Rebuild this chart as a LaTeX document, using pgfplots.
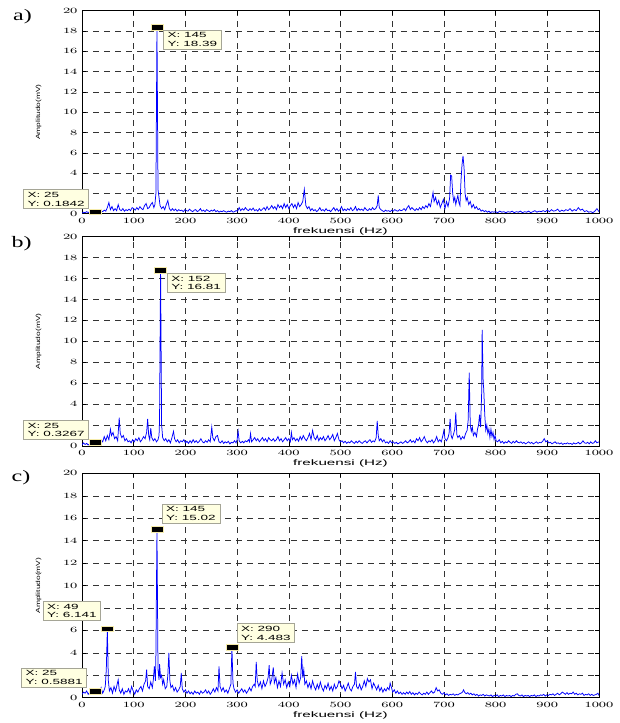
\documentclass[border=0pt]{standalone}
\usepackage{fontspec}
\setmainfont{Liberation Sans}
\newfontfamily\serifont{Liberation Serif}
\usepackage{graphicx}
\usepackage{pgfplots}
\pgfplotsset{compat=1.18}

\definecolor{tipfill}{RGB}{255,255,225}
\definecolor{tipedge}{RGB}{165,165,150}
\definecolor{tipmark}{RGB}{245,235,170}

\newcommand\wide[1]{\scalebox{1.7}[1]{#1}}
\newcommand\tw[1]{\scalebox{1.8}[1]{#1}}
\newcommand\tip[2]{\tw{X: #1}\\\tw{Y: #2}}

\pgfdeclareplotmark{dtip}{%
  \pgfpathrectangle{\pgfpoint{-6pt}{-2.8pt}}{\pgfpoint{12pt}{5.6pt}}%
  \pgfusepathqfillstroke}

\pgfplotsset{
  spec/.style={
    scale only axis, width=517pt,
    xmin=0, xmax=1000, ymin=0, ymax=20,
    xtick={0,100,...,1000}, ytick={0,2,...,20},
    /pgf/number format/1000 sep={},
    grid=major,
    major grid style={black!80, line width=0.45pt, dash pattern=on 6pt off 5pt},
    tick align=inside, tick pos=both, major tick length=4pt,
    tick style={black, line width=0.45pt},
    axis line style={black, line width=0.6pt},
    xticklabel={\wide{\pgfmathprintnumber{\tick}}},
    yticklabel={\wide{\pgfmathprintnumber{\tick}}},
    ticklabel style={font=\fontsize{8}{8}\selectfont},
    xticklabel style={yshift=-1.2pt},
    yticklabel style={xshift=-1pt},
    xlabel={\scalebox{1.9}[1]{frekuensi (Hz)}},
    xlabel style={font=\fontsize{8}{8}\selectfont, at={(axis description cs:0.5,0)}, anchor=center, yshift=-17.5pt},
    ylabel={\scalebox{1.4}[1]{Amplitudo(mV)}},
    ylabel style={font=\fontsize{6}{6}\selectfont, at={(axis description cs:-0.084,0.5)}, anchor=center},
    clip mode=individual,
  },
  sig/.style={color=blue, line width=0.75pt, mark=none},
  tipm/.style={only marks, mark=dtip, mark options={fill=black, draw=tipmark, line width=0.6pt}},
}
\tikzset{
  tipbox/.style={draw=tipedge, fill=tipfill, line width=0.5pt, font=\fontsize{7.5}{8.6}\selectfont,
    align=left, inner xsep=4pt, inner ysep=2.5pt},
  panel/.style={font=\serifont\fontsize{16}{16}\selectfont},
}

\begin{document}
\begin{tikzpicture}
\useasboundingbox (0,0) rectangle (620pt,723pt);

% ---------- a) ----------
\begin{axis}[spec, height=203pt, at={(82pt,509.3pt)}, anchor=south west]
\addplot[sig] coordinates {
(0,0.05)(3,0.15)(6,0.1)(9,0.2)(12,0.12)(15,0.18)(18,0.1)(21,0.15)(25,0.18)(28,0.1)
(31,0.2)(34,0.15)(37,0.3)(40,0.2)(43,0.35)(46,0.25)(49,0.6)(52,1.1)(55,0.4)(58,0.7)
(61,0.3)(64,0.5)(67,0.3)(70,0.9)(73,0.4)(76,0.3)(79,0.5)(82,0.25)(85,0.4)(88,0.3)
(91,0.45)(94,0.3)(97,0.6)(100,0.5)(103,0.35)(106,0.6)(109,0.4)(112,0.7)(115,0.5)(118,0.4)
(121,0.8)(124,1.0)(127,0.5)(130,0.6)(133,0.9)(136,1.1)(139,0.6)(141,0.9)(143,2.0)(145,18.39)
(147,2.4)(149,1.6)(151,0.8)(154,0.5)(157,0.7)(160,0.4)(163,0.9)(166,1.3)(169,0.5)(172,0.3)
(175,0.5)(178,0.3)(181,0.45)(184,0.25)(187,0.4)(190,0.3)(193,0.35)(196,0.2)(199,0.4)(202,0.3)
(205,0.25)(208,0.45)(211,0.3)(214,0.2)(217,0.35)(220,0.4)(223,0.2)(226,0.3)(229,0.5)(232,0.25)
(235,0.35)(238,0.2)(241,0.4)(244,0.3)(247,0.2)(250,0.35)(253,0.25)(256,0.4)(259,0.2)(262,0.3)
(265,0.15)(268,0.25)(271,0.2)(274,0.3)(277,0.2)(280,0.15)(283,0.25)(286,0.2)(289,0.3)(292,0.15)
(295,0.2)(298,0.3)(301,0.25)(304,0.6)(307,0.3)(310,0.5)(313,0.35)(316,0.6)(319,0.4)(322,0.3)
(325,0.5)(328,0.35)(331,0.55)(334,0.3)(337,0.4)(340,0.25)(343,0.5)(346,0.3)(349,0.45)(352,0.6)
(355,0.35)(358,0.7)(361,0.4)(364,0.55)(367,0.8)(370,0.5)(373,0.7)(376,0.4)(379,0.9)(382,0.6)
(385,0.8)(388,0.5)(391,1.0)(394,0.6)(397,0.9)(400,0.5)(403,0.8)(406,1.0)(409,0.6)(412,0.9)
(415,0.5)(418,1.1)(421,0.7)(424,0.9)(427,1.2)(430,2.4)(433,0.8)(436,0.5)(439,0.7)(442,0.3)
(445,0.5)(448,0.3)(451,0.4)(454,0.2)(457,0.35)(460,0.6)(463,0.3)(466,0.4)(469,0.25)(472,0.5)
(475,0.3)(478,0.35)(481,0.2)(484,0.4)(487,0.6)(490,0.3)(493,0.5)(496,0.25)(499,0.4)(502,0.7)
(505,0.3)(508,0.45)(511,0.3)(514,0.5)(517,0.35)(520,0.6)(523,0.3)(526,0.4)(529,0.7)(532,0.3)
(535,0.5)(538,0.35)(541,0.45)(544,0.3)(547,0.6)(550,0.4)(553,0.3)(556,0.5)(559,0.35)(562,0.6)
(565,0.4)(568,0.5)(571,0.8)(573,1.8)(575,0.6)(578,0.4)(581,0.3)(584,0.2)(587,0.35)(590,0.25)
(593,0.3)(596,0.2)(599,0.35)(602,0.25)(605,0.4)(608,0.3)(611,0.25)(614,0.4)(617,0.3)(620,0.35)
(623,0.5)(626,0.3)(629,0.6)(632,0.8)(635,0.4)(638,0.6)(641,0.45)(644,0.3)(647,0.5)(650,0.35)
(653,0.6)(656,0.4)(659,0.7)(662,0.5)(665,0.8)(668,0.6)(671,1.0)(674,0.7)(677,1.5)(679,2.1)
(681,1.2)(684,1.6)(687,0.9)(690,1.3)(693,0.6)(696,1.0)(699,1.4)(702,0.5)(705,1.2)(708,0.7)
(711,1.5)(713,3.8)(715,3.7)(717,2.0)(719,1.2)(721,1.6)(723,0.9)(725,1.4)(727,1.8)(729,1.1)
(731,0.8)(733,3.2)(735,4.8)(737,5.7)(739,4.5)(741,2.0)(743,1.3)(745,1.6)(748,0.9)(751,1.2)
(754,0.6)(757,0.9)(760,0.5)(763,0.7)(766,0.4)(769,0.5)(772,0.25)(775,0.35)(778,0.2)(781,0.3)
(784,0.15)(787,0.25)(790,0.1)(793,0.2)(796,0.15)(800,0.2)(804,0.1)(808,0.25)(812,0.15)(816,0.2)
(820,0.1)(824,0.2)(828,0.15)(832,0.25)(836,0.1)(840,0.2)(844,0.15)(848,0.25)(852,0.1)(856,0.2)
(860,0.15)(864,0.25)(868,0.1)(872,0.2)(876,0.3)(880,0.15)(884,0.25)(888,0.2)(892,0.3)(896,0.2)
(900,0.35)(904,0.2)(908,0.4)(912,0.25)(916,0.3)(920,0.45)(924,0.2)(928,0.35)(932,0.25)(936,0.4)
(940,0.3)(944,0.5)(948,0.25)(952,0.4)(956,0.3)(960,0.6)(964,0.35)(968,0.45)(972,0.2)(976,0.3)
(980,0.15)(984,0.2)(988,0.1)(992,0.25)(996,0.5)(1000,0.2)
};
\addplot[tipm] coordinates {(145,18.39)(25,0.1842)};
\node[tipbox, anchor=north west, xshift=6.5pt, yshift=-3pt] at (axis cs:145,18.39) {\tip{145}{18.39}};
\node[tipbox, anchor=south east, xshift=-6pt, yshift=3pt] at (axis cs:25,0.1842) {\tip{25}{0.1842}};
\node[panel] at (rel axis cs:-0.115,0.971) {\scalebox{1.5}[1]{a)}};
\end{axis}

% ---------- b) ----------
\begin{axis}[spec, height=209.3pt, at={(82pt,277pt)}, anchor=south west]
\addplot[sig] coordinates {
(0,0.1)(3,0.3)(6,0.15)(9,0.25)(12,0.1)(15,0.2)(18,0.35)(21,0.15)(25,0.33)(28,0.2)
(31,0.4)(34,0.3)(37,0.6)(40,0.4)(43,0.9)(46,0.5)(49,1.0)(52,0.6)(55,1.6)(57,1.0)
(60,1.3)(63,0.7)(66,0.9)(69,0.5)(72,2.7)(74,1.2)(77,0.8)(80,1.0)(83,0.5)(86,0.7)
(89,0.4)(92,0.5)(95,0.3)(98,0.6)(101,0.4)(104,0.7)(107,0.5)(110,0.8)(113,0.4)(116,0.6)
(119,0.9)(122,0.7)(125,1.3)(127,2.6)(129,1.0)(131,0.6)(133,1.7)(135,0.8)(138,0.5)(141,0.7)
(144,0.4)(147,0.6)(149,1.0)(150,2.5)(152,16.81)(154,2.0)(156,0.8)(159,0.5)(162,0.7)(165,0.4)
(168,0.6)(171,0.3)(174,0.8)(177,1.4)(179,0.7)(182,0.4)(185,0.6)(188,0.3)(191,0.5)(194,0.4)
(197,0.6)(200,0.3)(203,0.45)(206,0.25)(209,0.5)(212,0.3)(215,0.6)(218,0.35)(221,0.5)(224,0.3)
(227,0.45)(230,0.7)(233,0.4)(236,0.3)(239,0.5)(242,0.35)(245,0.6)(248,0.4)(251,1.8)(253,0.8)
(256,0.5)(259,0.9)(262,1.0)(265,0.4)(268,0.3)(271,0.5)(274,0.25)(277,0.4)(280,0.3)(283,0.45)
(286,0.2)(289,0.35)(292,0.3)(295,0.5)(298,0.3)(300,0.6)(302,1.4)(304,0.5)(307,0.3)(310,0.45)
(313,0.3)(316,0.5)(319,0.4)(322,0.6)(324,0.4)(326,1.2)(328,0.4)(331,0.6)(334,0.8)(337,0.5)
(340,0.7)(343,0.4)(346,0.6)(349,0.8)(352,0.5)(355,0.7)(358,0.4)(361,0.8)(364,0.6)(367,0.5)
(370,0.7)(373,0.45)(376,0.6)(379,0.9)(382,0.5)(385,0.7)(388,0.4)(391,0.6)(394,0.8)(397,0.5)
(400,0.7)(403,0.4)(405,1.3)(407,0.6)(410,0.8)(413,0.5)(416,0.7)(419,0.45)(422,0.9)(425,0.6)
(428,1.0)(431,0.7)(434,0.5)(437,0.8)(440,1.2)(443,0.6)(446,1.5)(449,0.8)(452,0.6)(455,1.0)
(458,0.5)(461,0.8)(464,0.6)(467,0.9)(470,0.5)(473,0.7)(476,1.0)(479,0.6)(482,0.8)(485,1.1)
(488,0.5)(491,0.8)(494,1.2)(497,0.6)(500,0.4)(503,0.5)(506,0.3)(509,0.45)(512,0.25)(515,0.4)
(518,0.3)(521,0.5)(524,0.35)(527,0.25)(530,0.45)(533,0.3)(536,0.5)(539,0.35)(542,0.25)(545,0.4)
(548,0.5)(551,0.3)(554,0.45)(557,0.6)(560,0.35)(563,0.5)(566,0.4)(569,0.8)(571,2.4)(573,1.0)
(575,0.5)(578,0.7)(581,0.4)(584,0.6)(587,0.3)(590,0.4)(593,0.25)(596,0.5)(599,0.3)(602,0.4)
(605,0.25)(608,0.35)(611,0.2)(614,0.3)(617,0.4)(620,0.25)(623,0.35)(626,0.5)(629,0.3)(632,0.4)
(635,0.6)(638,0.35)(641,0.5)(644,0.3)(647,0.7)(650,0.5)(653,0.8)(656,0.4)(659,0.6)(662,0.9)
(665,0.5)(668,0.3)(671,0.5)(674,0.4)(677,0.6)(680,0.3)(683,0.5)(686,0.9)(689,0.4)(692,0.6)
(695,0.4)(698,1.0)(700,1.5)(702,0.7)(705,0.5)(708,0.8)(710,1.2)(712,2.6)(714,1.0)(716,0.7)
(719,1.2)(721,1.6)(723,3.2)(725,1.1)(727,0.8)(730,1.0)(733,0.6)(736,0.9)(739,0.7)(742,1.2)
(745,1.5)(747,2.5)(749,7.0)(751,2.0)(753,1.4)(755,1.8)(757,1.0)(760,1.3)(763,0.9)(765,1.6)
(767,2.0)(769,3.0)(771,1.8)(773,5.0)(774,11.1)(776,6.0)(777,5.5)(779,3.0)(781,1.5)(783,2.0)
(785,1.2)(787,1.6)(789,0.8)(791,1.6)(793,0.9)(795,1.3)(797,0.6)(799,1.0)(801,0.5)(804,0.4)
(807,0.6)(810,0.3)(813,0.45)(816,0.25)(819,0.4)(822,0.3)(825,0.5)(828,0.35)(831,0.25)(834,0.45)
(837,0.3)(840,0.5)(843,0.35)(846,0.3)(849,0.4)(852,0.25)(855,0.35)(858,0.2)(861,0.3)(864,0.4)
(867,0.25)(870,0.35)(873,0.2)(876,0.3)(879,0.4)(882,0.25)(885,0.35)(888,0.3)(891,0.45)(894,0.7)
(897,0.4)(900,0.5)(903,0.3)(906,0.35)(909,0.2)(912,0.3)(915,0.4)(918,0.25)(921,0.3)(924,0.2)
(927,0.3)(930,0.15)(933,0.25)(936,0.2)(939,0.3)(942,0.2)(945,0.25)(948,0.15)(951,0.3)(954,0.2)
(957,0.25)(960,0.35)(963,0.2)(966,0.3)(969,0.5)(972,0.3)(975,0.25)(978,0.35)(981,0.2)(984,0.4)
(987,0.25)(990,0.3)(993,0.5)(996,0.3)(1000,0.4)
};
\addplot[tipm] coordinates {(152,16.81)(25,0.3267)};
\node[tipbox, anchor=north west, xshift=6.5pt, yshift=-3pt] at (axis cs:152,16.81) {\tip{152}{16.81}};
\node[tipbox, anchor=south east, xshift=-6pt, yshift=3pt] at (axis cs:25,0.3267) {\tip{25}{0.3267}};
\node[panel] at (rel axis cs:-0.117,0.965) {\scalebox{1.5}[1]{b)}};
\end{axis}

% ---------- c) ----------
\begin{axis}[spec, height=224.4pt, at={(82pt,25.3pt)}, anchor=south west]
\addplot[sig] coordinates {
(0,0.3)(3,0.5)(6,0.4)(9,0.6)(12,0.3)(15,0.5)(18,0.4)(21,0.6)(25,0.59)(28,0.4)
(31,0.7)(34,0.5)(37,0.9)(40,0.4)(43,0.7)(45,1.0)(47,2.5)(49,6.141)(51,1.5)(53,0.6)
(56,0.9)(59,0.4)(62,1.0)(65,0.6)(68,1.2)(70,1.6)(72,0.7)(75,0.4)(78,0.8)(81,0.3)
(84,0.6)(87,0.5)(90,0.8)(93,0.4)(96,1.0)(99,0.6)(102,0.3)(105,0.7)(108,0.5)(111,0.8)
(114,1.0)(117,0.6)(120,1.2)(123,1.5)(125,2.5)(127,1.0)(130,0.8)(133,1.4)(136,0.9)(138,1.6)
(140,2.8)(142,1.5)(143,4.0)(145,15.02)(147,2.5)(149,1.6)(150,3.0)(152,1.8)(154,2.0)(156,1.2)
(158,1.6)(161,0.8)(164,1.0)(166,2.0)(168,4.0)(170,1.5)(172,0.9)(175,1.1)(178,0.6)(181,0.9)
(184,0.5)(187,0.7)(190,1.0)(192,2.2)(194,0.8)(197,0.5)(200,0.7)(203,0.4)(206,0.6)(209,0.35)
(212,0.5)(215,0.3)(218,0.6)(221,0.4)(224,0.5)(227,0.3)(230,0.6)(233,0.4)(236,0.5)(239,0.7)
(242,0.4)(245,0.6)(248,0.3)(251,0.5)(254,0.8)(257,0.5)(260,0.9)(263,0.6)(265,2.8)(267,1.0)
(270,0.6)(273,0.9)(276,0.5)(279,0.7)(282,0.4)(285,0.8)(288,1.2)(290,4.483)(292,1.3)(294,0.8)
(297,0.5)(300,0.7)(303,0.4)(306,0.6)(309,0.8)(312,0.5)(315,0.7)(318,0.4)(321,0.6)(324,0.9)
(327,0.6)(330,1.0)(333,1.2)(335,1.0)(337,3.2)(339,1.5)(342,1.0)(345,1.4)(348,0.8)(351,1.5)
(354,1.0)(357,1.3)(360,1.8)(362,2.9)(364,1.2)(367,1.6)(370,2.7)(372,1.3)(375,1.8)(378,0.9)
(381,1.5)(384,1.0)(387,2.2)(390,1.2)(393,1.6)(396,0.9)(399,1.4)(402,1.0)(405,2.0)(408,1.2)
(411,1.6)(414,0.9)(417,2.1)(420,1.3)(423,1.8)(425,3.7)(427,1.8)(429,2.5)(431,1.2)(434,1.5)
(437,0.9)(440,1.3)(443,0.8)(446,1.5)(449,1.0)(452,0.7)(455,1.2)(458,0.8)(461,1.4)(464,0.9)
(467,0.6)(470,1.1)(473,0.8)(476,1.3)(479,0.7)(482,1.0)(485,0.6)(488,1.2)(491,0.8)(494,1.0)
(497,1.5)(500,1.2)(503,0.8)(506,1.1)(509,0.6)(512,0.9)(515,1.3)(518,0.8)(521,0.6)(524,1.0)
(527,1.2)(529,2.3)(531,1.0)(534,0.8)(537,1.2)(540,0.7)(543,1.0)(546,1.5)(549,1.0)(552,1.7)
(555,1.4)(558,1.6)(561,0.8)(564,1.3)(567,1.0)(570,0.7)(573,1.1)(576,0.6)(579,0.9)(582,0.5)
(585,0.8)(588,0.6)(591,0.9)(594,0.7)(596,1.3)(598,1.0)(601,0.5)(604,0.7)(607,0.4)(610,0.6)
(613,0.35)(616,0.5)(619,0.3)(622,0.45)(625,0.3)(628,0.5)(631,0.35)(634,0.55)(637,0.3)(640,0.45)
(643,0.25)(646,0.4)(649,0.3)(652,0.5)(655,0.35)(658,0.25)(661,0.4)(664,0.3)(667,0.5)(670,0.3)
(673,0.45)(676,0.6)(679,0.4)(682,0.5)(685,0.9)(688,0.6)(691,0.7)(694,0.4)(697,0.3)(700,0.45)
(703,0.25)(706,0.35)(709,0.2)(712,0.3)(715,0.25)(718,0.35)(721,0.2)(724,0.3)(727,0.25)(730,0.35)
(733,0.4)(736,0.5)(738,0.7)(740,0.5)(743,0.35)(746,0.45)(749,0.3)(752,0.4)(755,0.25)(758,0.35)
(761,0.2)(764,0.3)(767,0.15)(770,0.25)(773,0.2)(776,0.3)(779,0.15)(782,0.25)(785,0.2)(788,0.15)
(791,0.25)(794,0.1)(797,0.2)(800,0.15)(803,0.25)(806,0.1)(809,0.2)(812,0.15)(815,0.25)(818,0.1)
(821,0.2)(824,0.15)(827,0.2)(830,0.1)(833,0.2)(836,0.15)(839,0.3)(842,0.35)(845,0.2)(848,0.15)
(851,0.25)(854,0.1)(857,0.2)(860,0.15)(863,0.2)(866,0.1)(869,0.2)(872,0.15)(875,0.25)(878,0.1)
(881,0.2)(884,0.15)(887,0.25)(890,0.2)(893,0.3)(896,0.15)(899,0.25)(902,0.2)(905,0.3)(908,0.25)
(911,0.35)(914,0.2)(917,0.3)(920,0.4)(923,0.25)(926,0.35)(929,0.5)(932,0.4)(935,0.3)(938,0.45)
(941,0.3)(944,0.4)(947,0.35)(950,0.5)(953,0.3)(956,0.4)(959,0.25)(962,0.35)(965,0.3)(968,0.4)
(971,0.2)(974,0.3)(977,0.25)(980,0.35)(983,0.2)(986,0.3)(989,0.2)(992,0.25)(995,0.3)(998,0.4)
(1000,0.2)
};
\addplot[tipm] coordinates {(145,15.02)(49,6.141)(290,4.483)(25,0.5881)};
\node[tipbox, anchor=south west, xshift=5pt, yshift=6pt] at (axis cs:145,15.02) {\tip{145}{15.02}};
\node[tipbox, anchor=south east, xshift=-6.5pt, yshift=8pt] at (axis cs:49,6.141) {\tip{49}{6.141}};
\node[tipbox, anchor=south west, xshift=5pt, yshift=4.5pt] at (axis cs:290,4.483) {\tip{290}{4.483}};
\node[tipbox, anchor=south east, xshift=-8pt, yshift=4pt] at (axis cs:25,0.5881) {\tip{25}{0.5881}};
\node[panel] at (rel axis cs:-0.118,0.981) {\scalebox{1.5}[1]{c)}};
\end{axis}
\end{tikzpicture}
\end{document}
